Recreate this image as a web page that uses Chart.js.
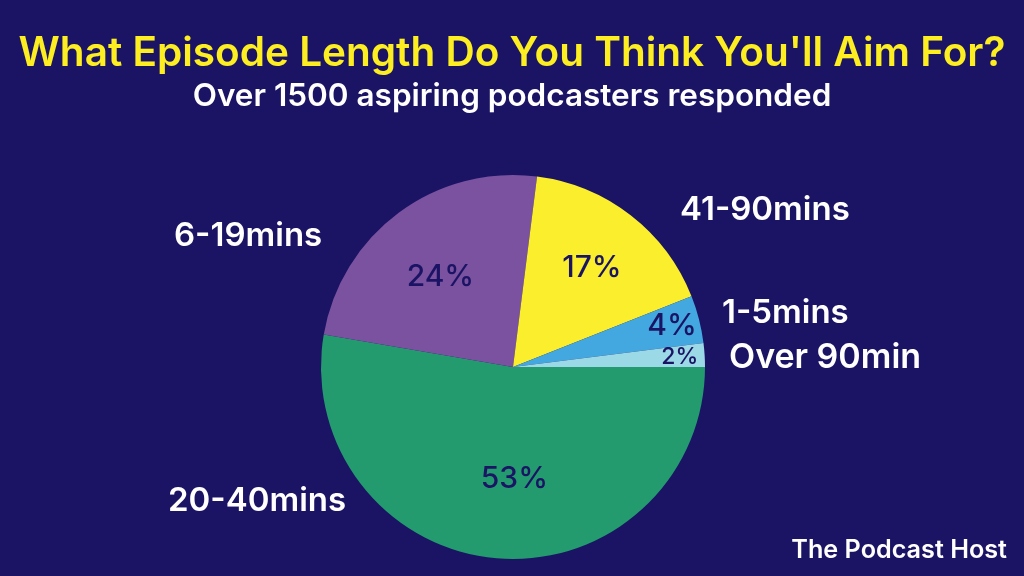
<!DOCTYPE html>
<html>
<head>
<meta charset="utf-8">
<title>Episode length</title>
<script src="https://cdn.jsdelivr.net/npm/chart.js@4/dist/chart.umd.min.js"></script>
<style>
    html, body { margin: 0; padding: 0; background: #1b1464; }
    #wrap { position: relative; width: 1024px; height: 576px; overflow: hidden; }
    #wrap canvas { display: block; }
    .txt { position: absolute; white-space: nowrap; font-family: Inter, sans-serif; }
    #title { left: 0; width: 1024px; top: 32px; text-align: center; color: #fcee21; font-size: 40.5px; font-weight: 600; line-height: 40px; }
    #subtitle { left: 0; width: 1024px; top: 77px; text-align: center; color: #fff; font-size: 31.5px; font-weight: 600; line-height: 36px; }
    #brand { right: 17px; top: 536px; color: #fff; font-size: 25.2px; font-weight: 600; line-height: 26px; }
</style>
</head>
<body>
<div id="wrap">
    <div class="txt" id="title">What Episode Length Do You Think You'll Aim For?</div>
    <div class="txt" id="subtitle">Over 1500 aspiring podcasters responded</div>
    <div class="txt" id="brand">The Podcast Host</div>
    <canvas id="pie" width="1024" height="576"></canvas>
</div>
<script>
const categories = ['20-40mins', '6-19mins', '41-90mins', '1-5mins', 'Over 90min'];
// slice sizes, the printed labels are these rounded
const shares = [52.7, 24.3, 17, 4, 2];
const sliceColors = ['#239b6f', '#7b52a0', '#fbee2c', '#42a8df', '#9bd9e6'];

// percent labels: distance along the slice middle, then a small nudge
const valueRadius = [0.53, 0.53, 0.62, 0.85, 0.87];
const valueNudge = [[10, 11], [-12, -8], [6, -5], [1, 0], [0, 1]];
const valueFonts = [30, 30, 30, 30, 23];

// left edge and middle of each outside label
const labelPos = [[168, 501], [174, 236], [680, 210], [722, 313], [729, 358]];
const labelFonts = [33, 33, 33, 33, 34];

const pieLabels = {
    id: 'pieLabels',
    afterDatasetsDraw(chart) {
        const ctx = chart.ctx;
        const arcs = chart.getDatasetMeta(0).data;
        ctx.save();
        ctx.textBaseline = 'middle';
        arcs.forEach((arc, i) => {
            const mid = (arc.startAngle + arc.endAngle) / 2;
            const r = arc.outerRadius * valueRadius[i];
            ctx.textAlign = 'center';
            ctx.fillStyle = '#1b1464';
            ctx.font = '500 ' + valueFonts[i] + 'px Inter, sans-serif';
            ctx.fillText(Math.round(shares[i]) + '%',
                arc.x + Math.cos(mid) * r + valueNudge[i][0],
                arc.y + Math.sin(mid) * r + valueNudge[i][1]);
        });
        ctx.fillStyle = '#ffffff';
        ctx.textAlign = 'left';
        arcs.forEach((arc, i) => {
            ctx.font = '600 ' + labelFonts[i] + 'px Inter, sans-serif';
            ctx.fillText(categories[i], labelPos[i][0], labelPos[i][1]);
        });
        ctx.restore();
    }
};

new Chart(document.getElementById('pie').getContext('2d'), {
    type: 'pie',
    data: {
        labels: categories,
        datasets: [{
            data: shares,
            backgroundColor: sliceColors,
            borderWidth: 0
        }]
    },
    options: {
        responsive: false,
        animation: false,
        rotation: 90,
        layout: { padding: { left: 321, right: 319, top: 175, bottom: 17 } },
        plugins: {
            legend: { display: false },
            tooltip: { enabled: false }
        }
    },
    plugins: [pieLabels]
});
</script>
</body>
</html>
